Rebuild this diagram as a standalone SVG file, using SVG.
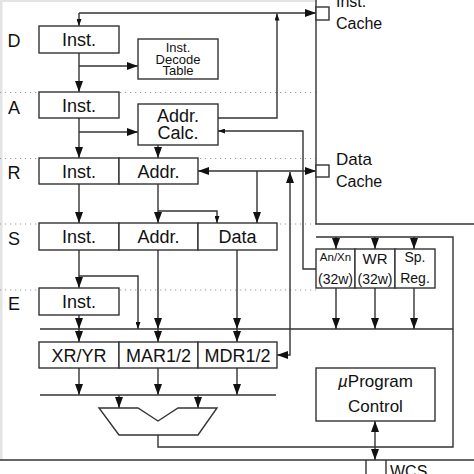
<svg xmlns="http://www.w3.org/2000/svg" width="474" height="474" viewBox="0 0 474 474">
<style>
.box{fill:#fff;stroke:#333;stroke-width:1.4}
.ln{fill:none;stroke:#333;stroke-width:1.4}
.dot{fill:none;stroke:#999;stroke-width:1.2;stroke-dasharray:1.2 3.8}
text{font-family:"Liberation Sans",Arial,sans-serif;fill:#111}
.t18{font-size:18px;text-anchor:middle}
.t13{font-size:13px;text-anchor:middle}
.t14{font-size:14px;text-anchor:middle}
.lbl{font-size:18px;text-anchor:middle}
.side{font-size:16px}
</style>
<defs>
<marker id="big" viewBox="0 0 11 8" refX="11" refY="4" markerWidth="11" markerHeight="8" markerUnits="userSpaceOnUse" orient="auto-start-reverse"><path d="M0,0 L11,4 L0,8 z" fill="#111"/></marker>
<marker id="sm" viewBox="0 0 7 5" refX="7" refY="2.5" markerWidth="7" markerHeight="5" markerUnits="userSpaceOnUse" orient="auto-start-reverse"><path d="M0,0 L7,2.5 L0,5 z" fill="#111"/></marker>
</defs>
<rect x="0" y="0" width="2.5" height="460" fill="#e4e4e4"/>
<rect x="0" y="0" width="316" height="2" fill="#e4e4e4"/>
<g id="stage-lines">
<path class="dot" d="M0,92.5 H316 M0,158.5 H316 M0,224 H316 M0,290 H316"/>
</g>
<g id="stage-labels">
<text class="lbl" x="14" y="46.5">D</text>
<text class="lbl" x="14" y="113.5">A</text>
<text class="lbl" x="14" y="178.5">R</text>
<text class="lbl" x="14" y="244.5">S</text>
<text class="lbl" x="14" y="309.5">E</text>
</g>
<g id="connectors">
<path class="ln" d="M218,118 H277 V13.5" marker-end="url(#sm)"/>
<path class="ln" d="M79,13 H316" marker-end="url(#big)"/>
<path class="ln" d="M79,13 V26" marker-end="url(#sm)"/>
<path class="ln" d="M79,53 V92" marker-end="url(#big)"/>
<path class="ln" d="M79,66 H138" marker-end="url(#big)"/>
<path class="ln" d="M79,118 V158" marker-end="url(#big)"/>
<path class="ln" d="M79,132 H138" marker-end="url(#big)"/>
<path class="ln" d="M158,145 V158" marker-end="url(#big)"/>
<path class="ln" d="M316,269 H303 V131 H218" marker-end="url(#sm)"/>
<path class="ln" d="M198,171 H316" marker-start="url(#big)" marker-end="url(#big)"/>
<path class="ln" d="M290,172 V355 H277" marker-start="url(#big)" marker-end="url(#big)"/>
<path class="ln" d="M257,171 V223" marker-end="url(#big)"/>
<path class="ln" d="M79,184 V223" marker-end="url(#big)"/>
<path class="ln" d="M158,184 V223" marker-end="url(#big)"/>
<path class="ln" d="M158,211 H217 V223" marker-end="url(#sm)"/>
<path class="ln" d="M79,250 V288" marker-end="url(#big)"/>
<path class="ln" d="M79,276 H138 V329" marker-end="url(#sm)"/>
<path class="ln" d="M158,250 V329" marker-end="url(#big)"/>
<path class="ln" d="M237,250 V329" marker-end="url(#big)"/>
<path class="ln" d="M79,315 V329" marker-end="url(#big)"/>
<path class="ln" d="M40,329 H453"/>
<path class="ln" d="M79,329 V342" marker-end="url(#big)"/>
<path class="ln" d="M158,329 V342" marker-end="url(#big)"/>
<path class="ln" d="M237,329 V342" marker-end="url(#big)"/>
<path class="ln" d="M336,288 V329" marker-end="url(#big)"/>
<path class="ln" d="M375,288 V329" marker-end="url(#big)"/>
<path class="ln" d="M414,288 V329" marker-end="url(#big)"/>
<path class="ln" d="M79,368 V395" marker-end="url(#big)"/>
<path class="ln" d="M158,368 V395" marker-end="url(#big)"/>
<path class="ln" d="M237,368 V395" marker-end="url(#big)"/>
<path class="ln" d="M40,395 H276"/>
<path class="ln" d="M119,395 V408" marker-end="url(#big)"/>
<path class="ln" d="M198,395 V408" marker-end="url(#big)"/>
<path class="ln" d="M158,435 V447 H453 V237 H316"/>
<path class="ln" d="M336,237 V249" marker-end="url(#big)"/>
<path class="ln" d="M375,237 V249" marker-end="url(#big)"/>
<path class="ln" d="M414,237 V249" marker-end="url(#big)"/>
<path class="ln" d="M316,0 V224 H474"/>
<path class="ln" d="M375,421 V460" marker-start="url(#big)" marker-end="url(#big)"/>
<path class="ln" d="M0,460 H474 M366,460 V474 M386,460 V474" stroke="#555"/>
</g>
<g id="d-inst"><rect class="box" x="39" y="26" width="80" height="27"/><text class="t18" x="79" y="46">Inst.</text></g>
<g id="decode-table"><rect class="box" x="138" y="39" width="80" height="40"/><text class="t13" x="178" y="52">Inst.</text><text class="t13" x="178" y="63.5">Decode</text><text class="t13" x="178" y="74.5">Table</text></g>
<g id="a-inst"><rect class="box" x="39" y="92" width="80" height="26"/><text class="t18" x="79" y="111.5">Inst.</text></g>
<g id="addr-calc"><rect class="box" x="138" y="104" width="80" height="41"/><text class="t18" x="178" y="122">Addr.</text><text class="t18" x="178" y="138.5">Calc.</text></g>
<g id="r-inst"><rect class="box" x="39" y="158" width="80" height="26"/><text class="t18" x="79" y="177.5">Inst.</text></g>
<g id="r-addr"><rect class="box" x="119" y="158" width="79" height="26"/><text class="t18" x="158.5" y="177.5">Addr.</text></g>
<g id="s-inst"><rect class="box" x="39" y="223" width="80" height="27"/><text class="t18" x="79" y="243">Inst.</text></g>
<g id="s-addr"><rect class="box" x="119" y="223" width="79" height="27"/><text class="t18" x="158.5" y="243">Addr.</text></g>
<g id="s-data"><rect class="box" x="198" y="223" width="79" height="27"/><text class="t18" x="237.5" y="243">Data</text></g>
<g id="e-inst"><rect class="box" x="39" y="288" width="80" height="27"/><text class="t18" x="79" y="308">Inst.</text></g>
<g id="xr-yr"><rect class="box" x="39" y="342" width="80" height="26"/><text class="t18" x="79" y="361.5">XR/YR</text></g>
<g id="mar"><rect class="box" x="119" y="342" width="79" height="26"/><text class="t18" x="158.5" y="361.5">MAR1/2</text></g>
<g id="mdr"><rect class="box" x="198" y="342" width="79" height="26"/><text class="t18" x="237.5" y="361.5">MDR1/2</text></g>
<g id="alu"><polygon class="box" points="99,408 138,408 158,421 178,408 217,408 198,435 119,435"/></g>
<g id="an-xn"><rect class="box" x="316" y="249" width="39" height="39"/><text class="t14" x="335.5" y="261" style="font-size:11.5px">An/Xn</text><text class="t14" x="335.5" y="284">(32w)</text></g>
<g id="wr"><rect class="box" x="355" y="249" width="40" height="39"/><text class="t14" x="375" y="264" style="font-size:15px">WR</text><text class="t14" x="375" y="284">(32w)</text></g>
<g id="sp-reg"><rect class="box" x="395" y="249" width="40" height="39"/><text class="t14" x="415" y="262">Sp.</text><text class="t14" x="415" y="283">Reg.</text></g>
<g id="uprogram-control"><rect class="box" x="316" y="368" width="119" height="53"/><text class="t18" x="375.5" y="387" style="font-size:17px"><tspan font-style="italic">µ</tspan>Program</text><text class="t18" x="375.5" y="411.5" style="font-size:17px">Control</text></g>
<g id="inst-cache"><rect class="box" x="316" y="7" width="13" height="13"/><text class="side" x="336" y="7">Inst.</text><text class="side" x="336" y="29">Cache</text></g>
<g id="data-cache"><rect class="box" x="316" y="165" width="13" height="12"/><text class="side" x="336" y="165" style="font-size:17px">Data</text><text class="side" x="336" y="187">Cache</text></g>
<g id="wcs"><text class="side" x="390" y="477">WCS</text></g>
</svg>
